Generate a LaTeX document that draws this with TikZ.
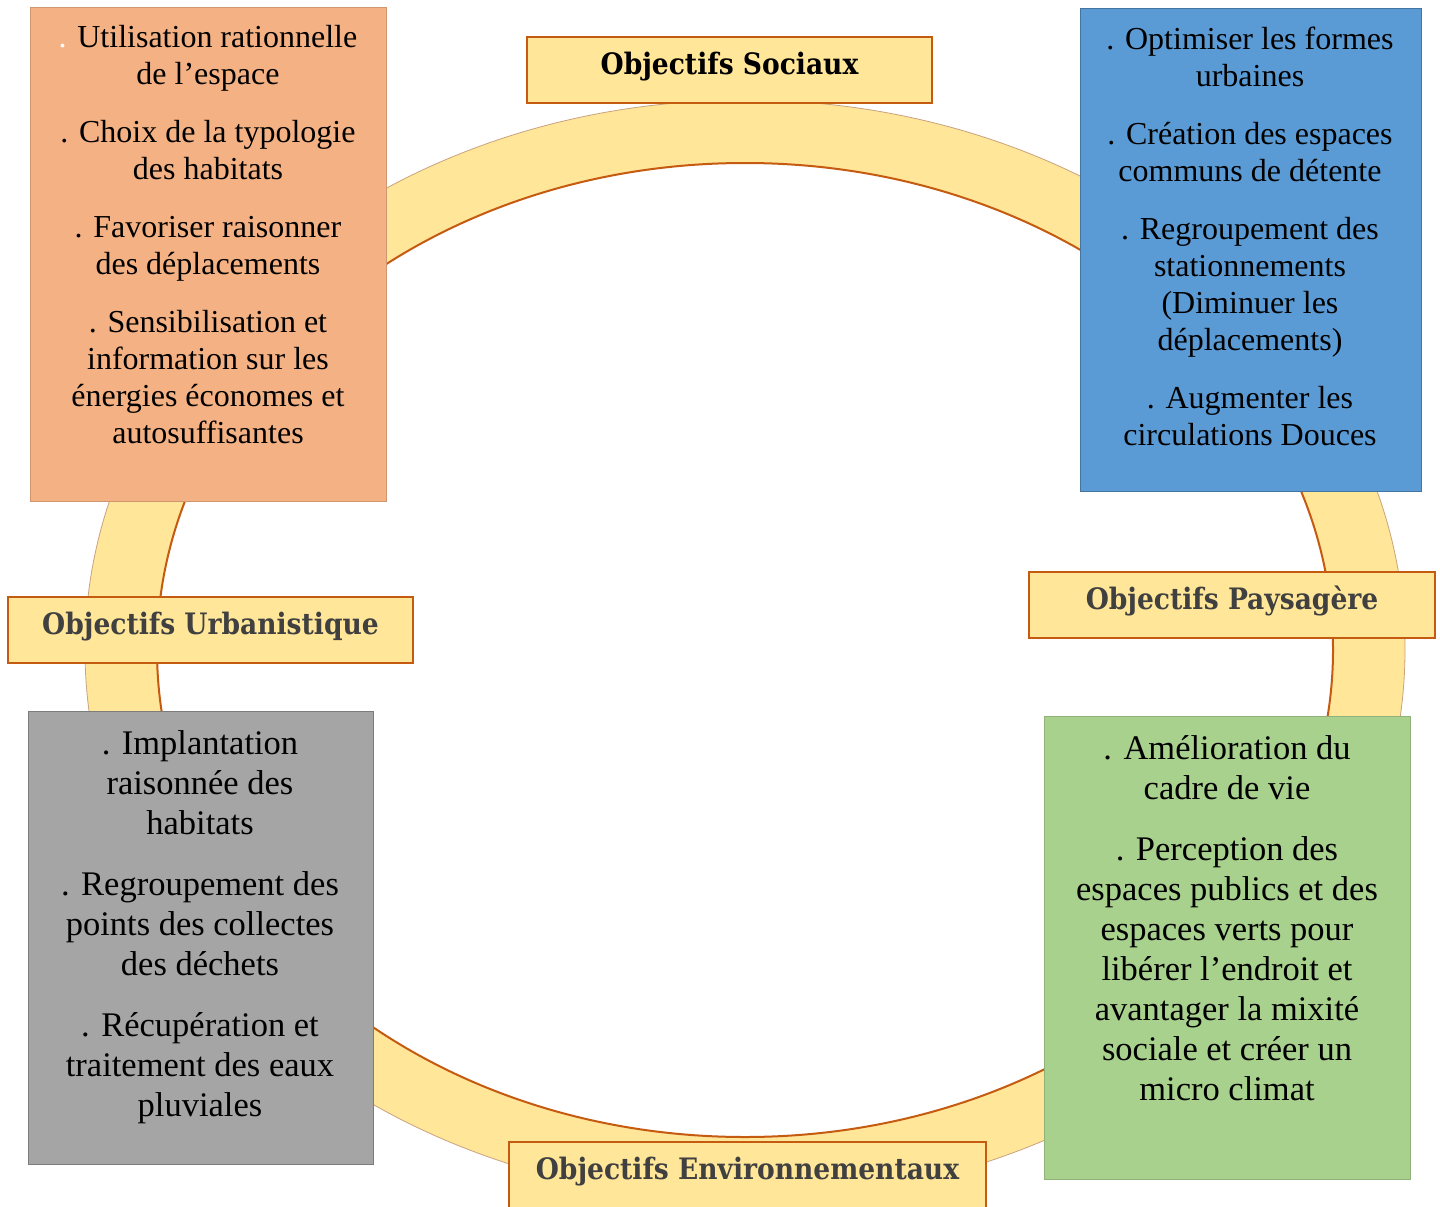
\documentclass[tikz,border=0pt]{standalone}
\usepackage{fontspec}
\setmainfont{Liberation Serif}
\newfontfamily\labelfont{DejaVu Serif Condensed}
\definecolor{ringfill}{HTML}{FFE699}
\definecolor{ringline}{HTML}{C55A11}
\definecolor{ringshade}{HTML}{C9A27E}
\definecolor{labeltext}{HTML}{404040}
\definecolor{orangebox}{HTML}{F4B183}
\definecolor{bluebox}{HTML}{5B9BD5}
\definecolor{graybox}{HTML}{A5A5A5}
\definecolor{greenbox}{HTML}{A9D18E}
\begin{document}
\begin{tikzpicture}[x=1pt,y=-1pt,
	objlabel/.style={draw=ringline,line width=2pt,fill=ringfill,inner sep=0pt,minimum height=66pt,
		text height=22.4pt,text depth=13pt,
		font=\labelfont\bfseries\fontsize{29.5}{34}\selectfont,text=labeltext},
	itembox/.style={anchor=north west,line width=0.8pt,inner sep=0pt},
	itemtext/.style={anchor=north,align=center,inner sep=0pt,font=\fontsize{32}{37}\selectfont},
	bigtext/.style={itemtext,font=\fontsize{34.5}{40}\selectfont}]
	\useasboundingbox (0,0) rectangle (1440,1207);
	\fill[white] (0,0) rectangle (1440,1207);
	\fill[ringfill,even odd rule] (745,650) ellipse [x radius=660pt,y radius=550pt]
		(745,650) ellipse [x radius=588pt,y radius=487pt];
	\draw[ringshade,line width=0.8pt] (745,650) ellipse [x radius=660pt,y radius=550pt];
	\draw[ringline,line width=2pt] (745,650) ellipse [x radius=588pt,y radius=487pt];
	\node[itembox,fill=orangebox,draw=orangebox!85!black,minimum width=356pt,minimum height=494pt] (urbbox) at (30,7) {};
	\node[itemtext] (urbtext) at (208,25) {{\color{white}.} Utilisation rationnelle\\de l’espace\\[21pt]
		. Choix de la typologie\\des habitats\\[21pt]
		. Favoriser raisonner\\des déplacements\\[21pt]
		. Sensibilisation et\\information sur les\\énergies économes et\\autosuffisantes};
	\node[itembox,fill=bluebox,draw=bluebox!75!black,minimum width=341pt,minimum height=483pt] (paybox) at (1080,8) {};
	\node[itemtext] (paytext) at (1250,27) {. Optimiser les formes\\urbaines\\[21pt]
		. Création des espaces\\communs de détente\\[21pt]
		. Regroupement des\\stationnements\\(Diminuer les\\déplacements)\\[21pt]
		. Augmenter les\\circulations Douces};
	\node[itembox,fill=graybox,draw=graybox!75!black,minimum width=345pt,minimum height=453pt] (envbox) at (28,711) {};
	\node[bigtext] (envtext) at (200,730) {. Implantation\\raisonnée des\\habitats\\[21pt]
		. Regroupement des\\points des collectes\\des déchets\\[21pt]
		. Récupération et\\traitement des eaux\\pluviales};
	\node[itembox,fill=greenbox,draw=greenbox!85!black,minimum width=366pt,minimum height=463pt] (socbox) at (1044,716) {};
	\node[bigtext] (soctext) at (1227,735) {. Amélioration du\\cadre de vie\\[21pt]
		. Perception des\\espaces publics et des\\espaces verts pour\\libérer l’endroit et\\avantager la mixité\\sociale et créer un\\micro climat};
	\node[objlabel,minimum width=405pt,text=black] (sociaux) at (729.5,70) {Objectifs Sociaux};
	\node[objlabel,minimum width=405pt] (urbanistique) at (210.5,630) {Objectifs Urbanistique};
	\node[objlabel,minimum width=406pt] (paysagere) at (1232,605) {Objectifs Paysagère};
	\node[objlabel,minimum width=477pt] (environnementaux) at (747.5,1175) {Objectifs Environnementaux};
\end{tikzpicture}
\end{document}
